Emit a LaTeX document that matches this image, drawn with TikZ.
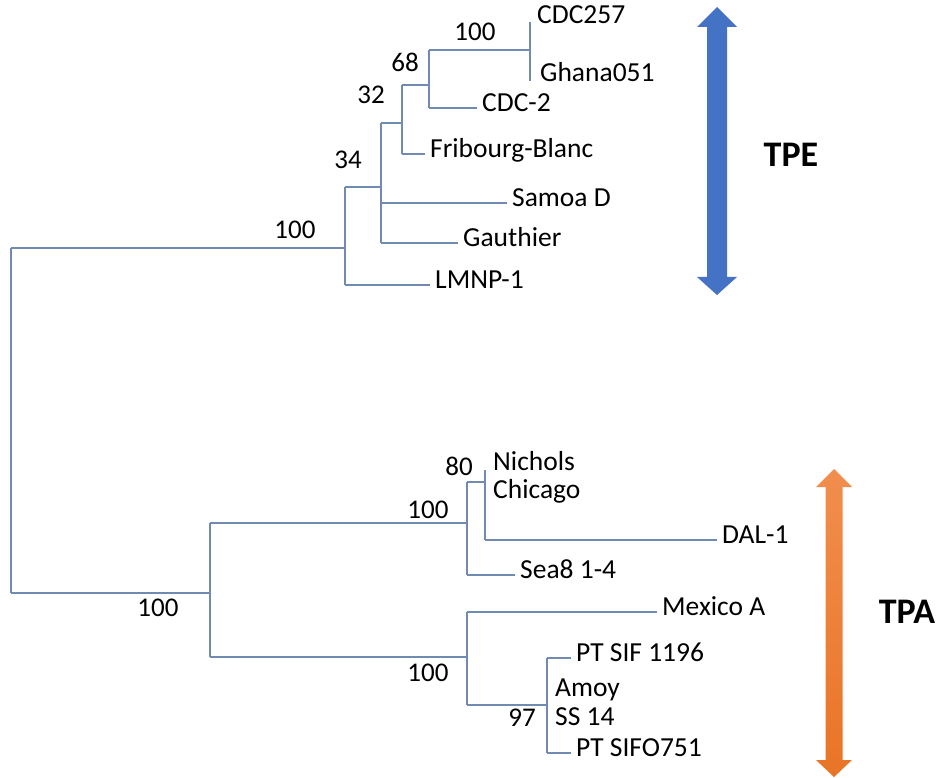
\documentclass[tikz,border=0pt]{standalone}
\usepackage{fontspec}
\setmainfont{Carlito}
\definecolor{treeline}{RGB}{112,138,178}
\definecolor{tpeblue}{RGB}{68,114,196}
\definecolor{tpaorangeA}{RGB}{241,142,78}
\definecolor{tpaorangeB}{RGB}{233,116,38}
\tikzset{
  br/.style={draw=treeline, line width=1.1pt},
  leaf/.style={anchor=west, inner xsep=5pt, inner ysep=0pt, text height=0.65em, text depth=0pt, font=\fontsize{27.5}{32}\selectfont},
  boot/.style={inner sep=0pt, text height=0.65em, text depth=0pt, font=\fontsize{27}{32}\selectfont},
  clade/.style={inner sep=0pt, text height=0.65em, text depth=0pt, font=\fontsize{36}{42}\selectfont\bfseries},
}
\begin{document}
\begin{tikzpicture}[x=1pt,y=-1pt]
\useasboundingbox[fill=white] (0,0) rectangle (938,778);
% ---------- coordinates ----------
\coordinate (rT) at (11,248); \coordinate (rB) at (11,593);
% TPE
\coordinate (e0m) at (345,248); \coordinate (e0a) at (345,187); \coordinate (e0b) at (345,285);
\coordinate (e1m) at (381,187); \coordinate (e1a) at (381,123); \coordinate (e1b) at (381,243); \coordinate (e1s) at (381,203);
\coordinate (e2m) at (402,123); \coordinate (e2a) at (402,85); \coordinate (e2b) at (402,154);
\coordinate (e3m) at (429,85); \coordinate (e3a) at (429,50); \coordinate (e3b) at (429,108);
\coordinate (e4m) at (530,50); \coordinate (e4a) at (530,22); \coordinate (e4b) at (530,81);
% TPA
\coordinate (a0m) at (210,593); \coordinate (a0a) at (210,523); \coordinate (a0b) at (210,657);
\coordinate (a1m) at (467,523); \coordinate (a1a) at (467,482); \coordinate (a1b) at (467,575);
\coordinate (a2m) at (485,482); \coordinate (a2a) at (485,470); \coordinate (a2b) at (485,540);
\coordinate (a3m) at (467,657); \coordinate (a3a) at (467,612); \coordinate (a3b) at (467,705);
\coordinate (a4m) at (547,705); \coordinate (a4a) at (547,658); \coordinate (a4b) at (547,753);
% ---------- leaf labels ----------
\node[leaf] (cdc257) at (532,20) {CDC257};
\node[leaf] (ghana) at (535,78) {Ghana051};
\node[leaf] (cdc2) at (477,108) {CDC-2};
\node[leaf] (fb) at (425,154) {Fribourg-Blanc};
\node[leaf] (samoa) at (507,203) {Samoa D};
\node[leaf] (gauth) at (458,243) {Gauthier};
\node[leaf] (lmnp) at (430,285) {LMNP-1};
\node[leaf] (nichols) at (488,467) {Nichols};
\node[leaf] (chicago) at (488,495) {Chicago};
\node[leaf] (dal) at (717,540) {DAL-1};
\node[leaf] (sea8) at (515,575) {Sea8 1-4};
\node[leaf] (mex) at (657,612) {Mexico A};
\node[leaf] (ptsif) at (571,658) {PT SIF 1196};
\node[leaf] (amoy) at (550,693) {Amoy};
\node[leaf] (ss14) at (550,722) {SS 14};
\node[leaf] (ptsifo) at (571,753) {PT SIFO751};
% ---------- bootstrap values ----------
\node[boot] (b1) at (475,37) {100};
\node[boot] (b2) at (405,68) {68};
\node[boot] (b3) at (371,100) {32};
\node[boot] (b4) at (348,165) {34};
\node[boot] (b5) at (295,235) {100};
\node[boot] (b6) at (158,613) {100};
\node[boot] (b7) at (428,515) {100};
\node[boot] (b8) at (459,472) {80};
\node[boot] (b9) at (428,678) {100};
\node[boot] (b10) at (522,723) {97};
% ---------- branches ----------
\draw[br] (rT) -- (rB);
\draw[br] (rT) -- (e0m);
\draw[br] (e0a) -- (e0b);
\draw[br] (e0b) -- (lmnp);
\draw[br] (e0a) -- (e1m);
\draw[br] (e1a) -- (e1b);
\draw[br] (e1s) -- (samoa);
\draw[br] (e1b) -- (gauth);
\draw[br] (e1a) -- (e2m);
\draw[br] (e2a) -- (e2b);
\draw[br] (e2b) -- (fb);
\draw[br] (e2a) -- (e3m);
\draw[br] (e3a) -- (e3b);
\draw[br] (e3b) -- (cdc2);
\draw[br] (e3a) -- (e4m);
\draw[br] (e4a) -- (e4b);
\draw[br] (rB) -- (a0m);
\draw[br] (a0a) -- (a0b);
\draw[br] (a0a) -- (a1m);
\draw[br] (a1a) -- (a1b);
\draw[br] (a1b) -- (sea8);
\draw[br] (a1a) -- (a2m);
\draw[br] (a2a) -- (a2b);
\draw[br] (a2b) -- (dal);
\draw[br] (a0b) -- (a3m);
\draw[br] (a3a) -- (a3b);
\draw[br] (a3a) -- (mex);
\draw[br] (a3b) -- (a4m);
\draw[br] (a4a) -- (a4b);
\draw[br] (a4a) -- (ptsif);
\draw[br] (a4b) -- (ptsifo);
% ---------- clade arrows ----------
\fill[tpeblue] (717,7) -- (737,27) -- (727,27) -- (727,277) -- (737,277) -- (717,295)
  -- (697,277) -- (707,277) -- (707,27) -- (697,27) -- cycle;
\shade[top color=tpaorangeA, bottom color=tpaorangeB] (834,469) -- (852,487) -- (842.5,487) -- (842.5,760) -- (852,760) -- (834,777)
  -- (816,760) -- (825.5,760) -- (825.5,487) -- (816,487) -- cycle;
\node[clade] (tpe) at (791,163) {TPE};
\node[clade] (tpa) at (907,620) {TPA};
\end{tikzpicture}
\end{document}
